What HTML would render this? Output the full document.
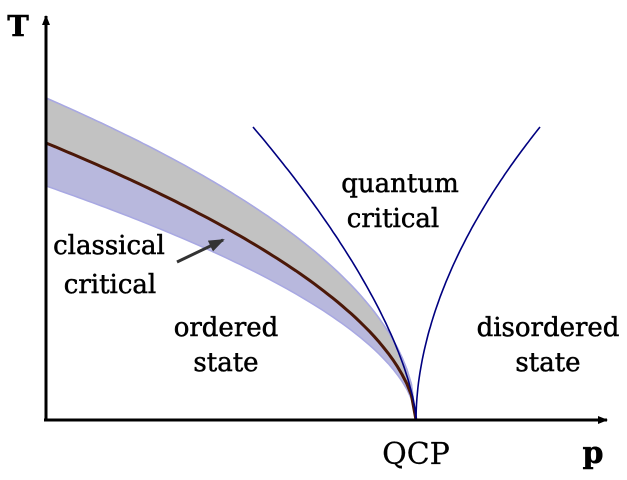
<!DOCTYPE html>
<html><head><style>html,body{margin:0;padding:0;background:#fff}svg{display:block}
.t{font-family:"DejaVu Serif","Liberation Serif",serif;font-size:26px;fill:#000;text-anchor:middle;stroke:#000;stroke-width:0.5}</style></head>
<body>
<svg width="627" height="480" xmlns="http://www.w3.org/2000/svg">
<defs><marker id="ah" markerWidth="10" markerHeight="8" refX="9" refY="4" orient="auto" markerUnits="userSpaceOnUse"><path d="M0,0 L10,4 L0,8 Z" fill="#000"/></marker>
<marker id="ah2" markerWidth="16" markerHeight="12" refX="14" refY="6" orient="auto" markerUnits="userSpaceOnUse"><path d="M0,0 L16,6 L0,12 Z" fill="#333"/></marker></defs>
<g id="g"></g>
<g>
<text class="t" x="400" y="192">quantum</text><text class="t" x="393" y="227">critical</text>
<text class="t" x="109" y="254">classical</text><text class="t" x="110" y="293">critical</text>
<text class="t" x="226" y="336">ordered</text><text class="t" x="226" y="371">state</text>
<text class="t" x="548" y="336">disordered</text><text class="t" x="548" y="371">state</text>
<text class="t" x="416" y="464" style="font-size:30px;stroke-width:0.2">QCP</text>
<text class="t" x="593" y="463" style="font-size:30px;font-weight:bold">p</text>
<text class="t" x="18" y="36" style="font-size:29px;font-weight:bold">T</text>
</g>
</svg>
<script>
function curve(T0,a,n){var p=[];for(var i=0;i<=n;i++){var u=i/n,x=46+u*370,y=420-T0*Math.pow(1-u,a);p.push(x.toFixed(1)+","+y.toFixed(1));}return p;}
var up=curve(322,0.5,80),mid=curve(277,0.55,80),lo=curve(234,0.55,80);
function ql(x0,beta,sgn){var d0=Math.abs(x0-416),c=293/Math.pow(d0,beta),p=[];for(var i=0;i<=80;i++){var d=d0*Math.pow(i/80,1.5),x=416+sgn*d,y=420-c*Math.pow(d,beta);p.push(x.toFixed(1)+","+y.toFixed(1));}return p;}
var s='';
s+='<polygon points="'+up.join(" ")+' '+lo.slice().reverse().join(" ")+'" fill="#b8b8dd" stroke="#a8a8e2" stroke-width="1.5"/>';
s+='<polygon points="'+up.join(" ")+' '+mid.slice().reverse().join(" ")+'" fill="#c2c2c2"/>';
s+='<polyline points="'+up.join(" ")+'" fill="none" stroke="#a8a8e2" stroke-width="1.5"/>';
s+='<polyline points="'+mid.join(" ")+'" fill="none" stroke="#4b1808" stroke-width="3"/>';
s+='<polyline points="'+ql(253,0.656,-1).join(" ")+'" fill="none" stroke="#000080" stroke-width="1.6"/>';
s+='<polyline points="'+ql(540,0.53,1).join(" ")+'" fill="none" stroke="#000080" stroke-width="1.6"/>';
s+='<line x1="46" y1="421" x2="46" y2="16" stroke="#000" stroke-width="3" marker-end="url(#ah)"/>';
s+='<line x1="44" y1="420" x2="607" y2="420" stroke="#000" stroke-width="3" marker-end="url(#ah)"/>';
s+='<line x1="177" y1="262" x2="223" y2="240" stroke="#333" stroke-width="3" marker-end="url(#ah2)"/>';
document.getElementById('g').innerHTML=s;
</script>
</body></html>
